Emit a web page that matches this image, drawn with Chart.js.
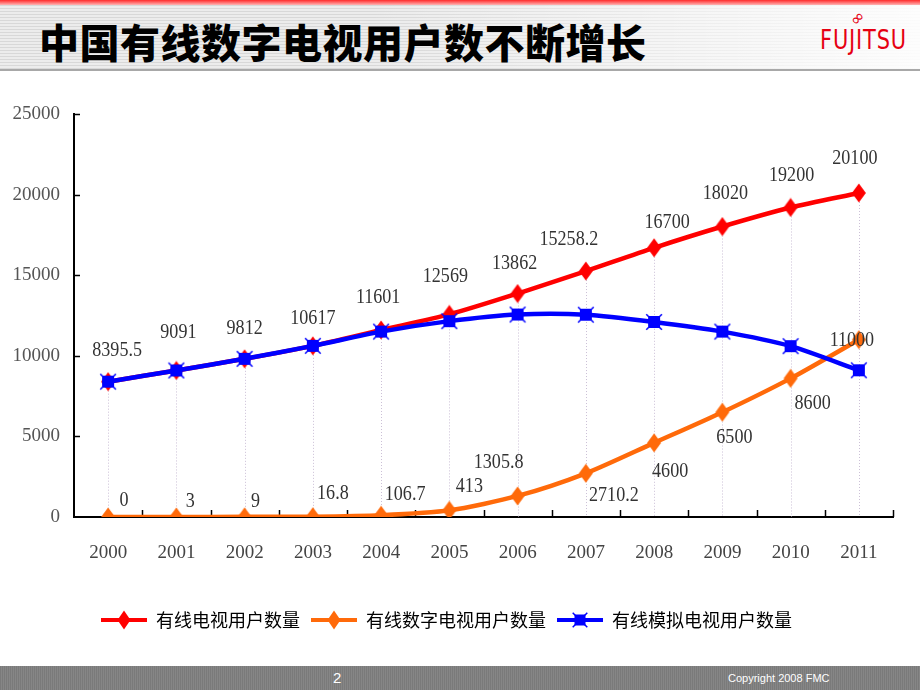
<!DOCTYPE html>
<html>
<head>
<meta charset="utf-8">
<script src="https://cdn.jsdelivr.net/npm/chart.js@4.4.0/dist/chart.umd.min.js"></script>
<style>
  html, body { margin: 0; padding: 0; width: 920px; height: 690px; overflow: hidden; background: #fff; font-family: "Noto Sans CJK SC", sans-serif; }
  #head { position: absolute; left: 0; top: 0; width: 920px; height: 71px; box-sizing: border-box; z-index: 2;
    background: linear-gradient(to right, rgba(255,255,255,0) 0%, rgba(255,255,255,0) 40%, rgba(255,255,255,.9) 100%),
                repeating-linear-gradient(0deg, #d8d8d8 0 1px, #ececec 1px 3px);
    border-bottom: 2px solid #a8a8a8; }
  #redline { position: absolute; left: 0; top: 0; width: 920px; height: 5px; background: linear-gradient(#ff2a2a, #ffb4b4); }
  #title { position: absolute; left: 39px; top: 15px; font-size: 40px; font-weight: 900; line-height: 52px; color: #000; white-space: nowrap; letter-spacing: 0.5px; }
  #logo { position: absolute; left: 820px; top: 25px; font-family: "Liberation Sans Narrow", "DejaVu Sans Condensed", sans-serif; font-size: 27px; line-height: 30px; color: #e60012; transform: scaleX(0.86); transform-origin: left top; letter-spacing: 1px; }
  #inf { position: absolute; left: 850px; top: 8px; font-family: "DejaVu Sans", sans-serif; font-size: 17px; color: #e60012; transform: rotate(-45deg); }
  #wrap { position: absolute; left: 0; top: 0; width: 920px; height: 660px; z-index: 1; }
  #foot { position: absolute; left: 0; top: 666px; width: 920px; height: 24px; z-index: 2;
    background: repeating-linear-gradient(90deg, #7a7a7a 0 1px, #868686 1px 2px); color: #fff; font-family: "Liberation Sans", sans-serif; }
  #page { position: absolute; left: 333px; top: 3px; font-size: 15px; }
  #copy { position: absolute; left: 728px; top: 6px; font-size: 11px; }
</style>
</head>
<body>
<div id="head">
  <div id="redline"></div>
  <div id="title">中国有线数字电视用户数不断增长</div>
  <div id="inf">∞</div>
  <div id="logo">FUJITSU</div>
</div>
<div id="wrap"><canvas id="chart" width="920" height="660"></canvas></div>
<div id="foot"><span id="page">2</span><span id="copy">Copyright 2008 FMC</span></div>

<script>
// données
const years = ['2000', '2001', '2002', '2003', '2004', '2005', '2006', '2007', '2008', '2009', '2010', '2011'];
const cableTotal = [8395.5, 9091, 9812, 10617, 11601, 12569, 13862, 15258.2, 16700, 18020, 19200, 20100];
const cableDigital = [0, 3, 9, 16.8, 106.7, 413, 1305.8, 2710.2, 4600, 6500, 8600, 11000];
const cableAnalog = [8395.5, 9091, 9812, 10617, 11500, 12150, 12560, 12550, 12100, 11500, 10600, 9100];
const seriesNames = ['有线电视用户数量', '有线数字电视用户数量', '有线模拟电视用户数量'];
const yTickValues = [0, 5000, 10000, 15000, 20000, 25000];

// décalage des étiquettes (en px, par rapport au point)
const totalLabelShift = [[9, -31], [2, -38], [0, -30], [0, -27], [-3, -33], [-4, -38], [-3, -30], [-17, -32], [13, -25], [3, -33], [1, -32], [-4, -35]];
const digitalLabelShift = [[16, -17], [14, -15], [11, -15], [20, -23], [24, -21], [20, -24], [-19, -33], [28, 22], [16, 29], [12, 25], [22, 25], [-7, 1]];

const RED = '#ff0000', ORANGE = '#ff6a0a', BLUE = '#0000ff';

function drawDiamond(c, cx, cy, w, h, color) {
    c.fillStyle = color;
    c.beginPath();
    c.moveTo(cx, cy - h / 2); c.lineTo(cx + w / 2, cy); c.lineTo(cx, cy + h / 2); c.lineTo(cx - w / 2, cy);
    c.closePath(); c.fill();
}
function drawStarSquare(c, cx, cy, s, color) {
    c.fillStyle = color; c.strokeStyle = color; c.lineWidth = 1.5;
    c.fillRect(cx - s / 2, cy - s / 2, s, s);
    const e = s / 2 + 1.8;
    c.beginPath();
    c.moveTo(cx - e, cy - e); c.lineTo(cx + e, cy + e);
    c.moveTo(cx + e, cy - e); c.lineTo(cx - e, cy + e);
    c.stroke();
}
function makeCanvas(w, h, fn) {
    const c = document.createElement('canvas');
    c.width = w; c.height = h;
    fn(c.getContext('2d'), w, h);
    return c;
}
const markers = [
    makeCanvas(16, 20, (c, w, h) => drawDiamond(c, w / 2, h / 2, 14, 19, RED)),
    makeCanvas(16, 20, (c, w, h) => drawDiamond(c, w / 2, h / 2, 14, 19, ORANGE)),
    makeCanvas(18, 18, (c, w, h) => drawStarSquare(c, w / 2, h / 2, 12, BLUE))
];
const legendMarks = [RED, ORANGE, BLUE].map((col, i) => makeCanvas(48, 22, (c, w, h) => {
    c.strokeStyle = col; c.lineWidth = 4;
    c.beginPath(); c.moveTo(1, h / 2); c.lineTo(w - 1, h / 2); c.stroke();
    if (i < 2) drawDiamond(c, w / 2, h / 2, 13, 19, col);
    else drawStarSquare(c, w / 2, h / 2, 11, col);
}));

// lignes de rappel, graduations et étiquettes
const overlay = {
    id: 'overlay',
    beforeDatasetsDraw(chart) {
        const { ctx, chartArea: a, scales: { x, y } } = chart;
        ctx.save();
        ctx.strokeStyle = '#cbbfd6'; ctx.lineWidth = 1; ctx.setLineDash([1, 2]);
        years.forEach((_, i) => {
            const top = Math.max(cableTotal[i], cableDigital[i], cableAnalog[i]);
            const px = Math.round(x.getPixelForValue(i)) + 0.5;
            ctx.beginPath(); ctx.moveTo(px, y.getPixelForValue(top)); ctx.lineTo(px, a.bottom); ctx.stroke();
        });
        ctx.setLineDash([]);
        ctx.strokeStyle = '#000'; ctx.lineWidth = 1.5;
        yTickValues.slice(1).forEach(v => {
            const py = Math.round(y.getPixelForValue(v)) + 0.5;
            ctx.beginPath(); ctx.moveTo(a.left, py); ctx.lineTo(a.left + 6, py); ctx.stroke();
        });
        years.forEach((_, i) => {
            const px = Math.round(x.getPixelForValue(i + 0.5)) + 0.5;
            ctx.beginPath(); ctx.moveTo(px, a.bottom); ctx.lineTo(px, a.bottom - 7); ctx.stroke();
        });
        ctx.restore();
    },
    afterDatasetsDraw(chart) {
        const { ctx } = chart;
        ctx.save();
        ctx.fillStyle = '#333';
        ctx.font = '21px "Liberation Serif"';
        ctx.textAlign = 'center'; ctx.textBaseline = 'middle';
        [[0, cableTotal, totalLabelShift], [1, cableDigital, digitalLabelShift]].forEach(([d, vals, shift]) => {
            const pts = chart.getDatasetMeta(d).data;
            vals.forEach((v, i) => {
                ctx.save();
                ctx.translate(pts[i].x + shift[i][0], pts[i].y + shift[i][1]);
                ctx.scale(0.86, 1);
                ctx.fillText(String(v), 0, 0);
                ctx.restore();
            });
        });
        ctx.restore();
    }
};

const serie = (label, data, color, mark, order) => ({
    label, data, order,
    borderColor: color, backgroundColor: color,
    borderWidth: 4.5, tension: 0.25,
    pointStyle: mark, pointRadius: 8
});

new Chart(document.getElementById('chart'), {
    type: 'line',
    data: {
        labels: years,
        datasets: [
            serie(seriesNames[0], cableTotal, RED, markers[0], 3),
            serie(seriesNames[1], cableDigital, ORANGE, markers[1], 2),
            serie(seriesNames[2], cableAnalog, BLUE, markers[2], 1)
        ]
    },
    options: {
        responsive: false,
        animation: false,
        events: [],
        layout: { padding: { top: 114, right: 27, left: 0, bottom: 21 } },
        scales: {
            x: {
                offset: true,
                grid: { display: true, drawOnChartArea: false, drawTicks: false },
                border: { display: true, color: '#000', width: 2 },
                ticks: { color: '#444', font: { family: 'Liberation Serif', size: 19 }, padding: 25 },
                afterFit(s) { s.height = 83; }
            },
            y: {
                min: 0, max: 25000,
                grid: { display: true, drawOnChartArea: false, drawTicks: false },
                border: { display: true, color: '#000', width: 2 },
                ticks: { stepSize: 5000, color: '#555', font: { family: 'Liberation Serif', size: 19 }, padding: 14,
                    callback: v => String(v) },
                afterFit(s) { s.width = 74; }
            }
        },
        plugins: {
            tooltip: { enabled: false },
            legend: {
                position: 'bottom',
                labels: {
                    usePointStyle: true,
                    pointStyleWidth: 46,
                    padding: 11,
                    color: '#000',
                    font: { family: 'Noto Sans CJK SC', size: 18 },
                    generateLabels: chart => chart.data.datasets.map((ds, i) => ({
                        text: ds.label, pointStyle: legendMarks[i], fillStyle: ds.borderColor,
                        strokeStyle: ds.borderColor, lineWidth: 0, hidden: false, datasetIndex: i
                    }))
                }
            }
        }
    },
    plugins: [overlay]
});
</script>
</body>
</html>
